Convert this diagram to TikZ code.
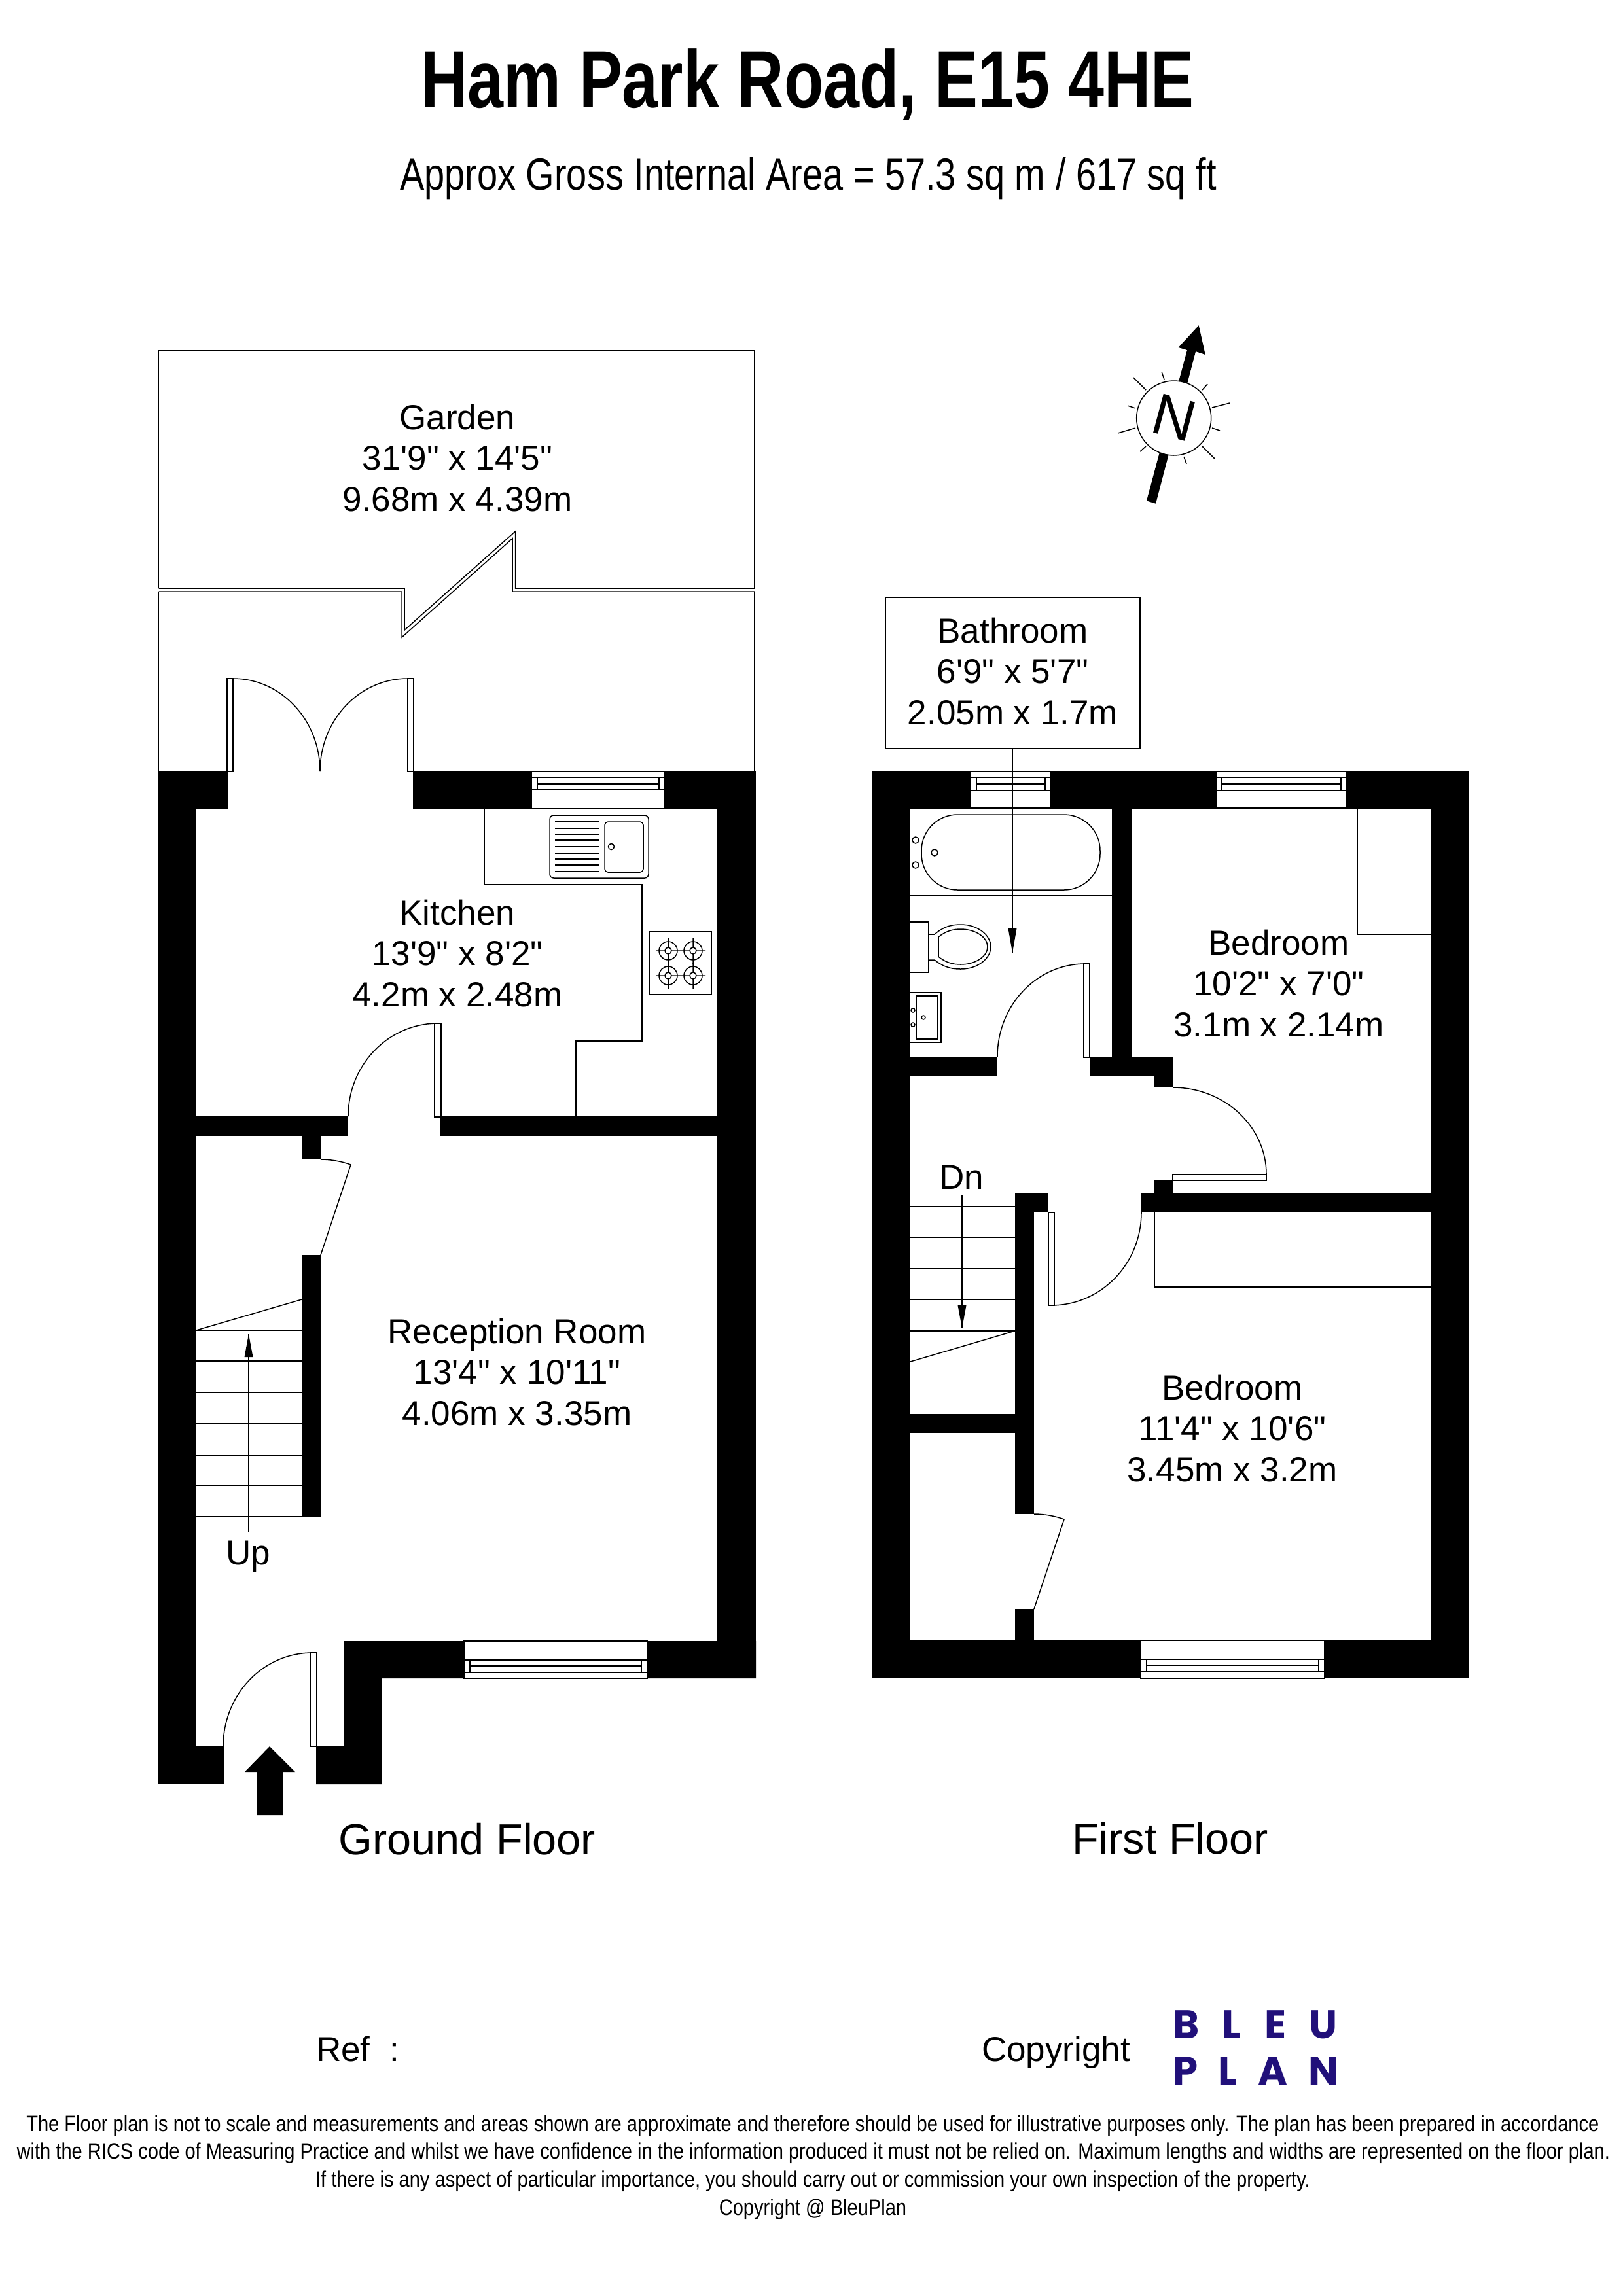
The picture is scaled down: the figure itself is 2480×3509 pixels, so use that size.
\documentclass[tikz,border=0pt]{standalone}
\usepackage{fontspec}
\newfontfamily\ar{Liberation Sans}
\newfontfamily\arT[FakeStretch=0.797]{Liberation Sans}
\newfontfamily\arS[FakeStretch=0.81]{Liberation Sans}
\newfontfamily\arF[FakeStretch=0.855]{Liberation Sans}
\newfontfamily\bleu[LetterSpace=58]{Poppins}
\newfontfamily\bleuB[LetterSpace=52]{Poppins}
\definecolor{bleublue}{HTML}{21107A}
\tikzset{
  wall/.style={fill=black,draw=none},
  fine/.style={draw=black,line width=1.5pt},
  leaf/.style={draw=black,line width=1.5pt,fill=white},
  room/.style={font=\ar\fontsize{53}{62.5}\selectfont,align=center,inner sep=0pt},
  lab/.style={font=\ar\fontsize{53}{62.5}\selectfont,anchor=base,inner sep=0pt},
  floorlab/.style={font=\ar\fontsize{66.6}{70}\selectfont,anchor=base,inner sep=0pt},
  foot/.style={font=\arF\fontsize{34}{40}\selectfont,anchor=base,inner sep=0pt},
}
\newcommand\varc[4]{\draw[fine] (#1,#2) .. controls ({#1},{#2+.5523*(#4-#2)}) and ({#3+.5523*(#1-#3)},#4) .. (#3,#4);}
\newcommand\fwin[7]{%
  \draw[leaf] (#1,#3) rectangle (#2,#4);
  \draw[leaf] (#1,#5) rectangle (#2,#7);
  \draw[fine] ({#1+9},#5) -- ({#1+9},#7) ({#2-9},#5) -- ({#2-9},#7) ({#1+9},#6) -- ({#2-9},#6);}
\newcommand\burner[2]{%
  \draw[fine] (#1,#2) circle[radius=14] (#1,#2) circle[radius=5]
    ({#1-19},#2) -- ({#1-5},#2) ({#1+5},#2) -- ({#1+19},#2)
    (#1,{#2-20}) -- (#1,{#2-5}) (#1,{#2+5}) -- (#1,{#2+20});}
\newcommand\updown[4]{% x, from y, tip y, base y
  \draw[fine] (#1,#2) -- (#1,#3);
  \fill (#1,#3) -- ({#1-6.5},#4) -- ({#1+6.5},#4) -- cycle;}
\begin{document}
\begin{tikzpicture}[x=1pt,y=-1pt]
\useasboundingbox (0,0) rectangle (2480,3509);
\fill[white] (0,0) rectangle (2480,3509);

% titles
\node[font=\arT\bfseries\fontsize{124}{130}\selectfont,anchor=base,inner sep=0pt] (title) at (1234,164) {Ham Park Road, E15 4HE};
\node[font=\arS\fontsize{69}{72}\selectfont,anchor=base,inner sep=0pt] (subtitle) at (1235,290) {Approx Gross Internal Area = 57.3 sq m / 617 sq ft};

% ---------- garden
\draw[fine] (242.5,899) -- (242.5,536) -- (1153,536) -- (1153,899);
\draw[fine] (242.5,899) -- (618,899) -- (618,963) -- (787.5,812) -- (787.5,899) -- (1153,899);
\draw[fine] (242.5,904) -- (614,904) -- (614,974) -- (783,823) -- (783,904) -- (1153,904);
\draw[fine] (242.5,904) -- (242.5,1179) (1153,904) -- (1153,1179);

% ---------- ground floor walls
\fill[wall] (242,1179) rectangle (348,1237);
\fill[wall] (242,1179) rectangle (300,2727);
\fill[wall] (242,2669) rectangle (342,2727);
\fill[wall] (631,1179) rectangle (1155,1237);
\fill[wall] (1096,1179) rectangle (1155,2565);
\fill[wall] (300,1706) rectangle (532,1736);
\fill[wall] (673,1706) rectangle (1096,1736);
\fill[wall] (461,1736) rectangle (490,1772);
\fill[wall] (461,1918) rectangle (490,2318);
\fill[wall] (525,2508) -- (1155,2508) -- (1155,2565) -- (583,2565) -- (583,2727) -- (483,2727) -- (483,2669) -- (525,2669) -- cycle;
\fwin{812}{1016}{1179}{1236}{1188}{1198}{1207}
\fwin{709}{989}{2508}{2565}{2537}{2546}{2556}

% french doors
\draw[leaf] (347,1037) rectangle (356,1179);
\draw[leaf] (623,1037) rectangle (632,1179);
\varc{489}{1179}{356}{1037}
\varc{489}{1179}{623}{1037}
% kitchen door
\draw[leaf] (664,1564) rectangle (674,1707);
\varc{532}{1706}{669}{1564}
% entrance door
\draw[leaf] (474,2526) rectangle (484,2669);
\varc{341}{2669}{477}{2526}
% under stair door
\draw[fine] (490,1772) .. controls (506,1772) and (522,1775) .. (536,1780) -- (490,1918);
% worktop
\draw[fine] (740,1237) -- (740,1352) -- (981,1352) -- (981,1591) -- (880,1591) -- (880,1706);
% sink
\draw[fine,rounded corners=6pt] (840,1246) rectangle (991,1342);
\draw[fine,rounded corners=5pt] (924,1256) rectangle (983,1333);
\draw[fine] (934,1294) circle[radius=4.5];
\foreach \ry in {1256,1266,1275,1284,1294,1304,1313,1322,1332} \draw[fine] (848,\ry) -- (916,\ry);
% hob
\draw[fine] (992,1424) rectangle (1087,1520);
\burner{1021}{1453}\burner{1059}{1453}\burner{1021}{1491}\burner{1059}{1491}
% stairs
\foreach \ry in {2033,2080,2128,2176,2224,2270,2318} \draw[fine] (300,\ry) -- (461,\ry);
\draw[fine] (300,2033) -- (461,1986);
\updown{380}{2341}{2039}{2074}
\node[lab] (up) at (379,2391) {Up};
% entrance arrow
\fill (412,2669) -- (451,2708) -- (432,2708) -- (432,2774) -- (393,2774) -- (393,2708) -- (374,2708) -- cycle;

\node[room] (garden) at (699,700) {Garden\\31'9" x 14'5"\\9.68m x 4.39m};
\node[room] (kitchen) at (699,1457) {Kitchen\\13'9" x 8'2"\\4.2m x 2.48m};
\node[room] (reception) at (790,2097) {Reception Room\\13'4" x 10'11"\\4.06m x 3.35m};
\node[floorlab] (gfloor) at (714,2834) {Ground Floor};

% ---------- first floor walls
\fill[wall] (1332,1179) rectangle (2245,1237);
\fill[wall] (1332,1179) rectangle (1391,2565);
\fill[wall] (2186,1179) rectangle (2245,2565);
\fill[wall] (1332,2507) rectangle (2245,2565);
\fill[wall] (1699,1237) rectangle (1729,1615);
\fill[wall] (1391,1615) rectangle (1524,1645);
\fill[wall] (1665,1615) rectangle (1793,1645);
\fill[wall] (1763,1615) rectangle (1793,1662);
\fill[wall] (1763,1804) rectangle (1793,1824);
\fill[wall] (1743,1824) rectangle (2186,1853);
\fill[wall] (1551,1824) rectangle (1602,1853);
\fill[wall] (1551,1824) rectangle (1580,2314);
\fill[wall] (1391,2161) rectangle (1580,2190);
\fill[wall] (1551,2459) rectangle (1580,2507);
\fwin{1483}{1606}{1179}{1235}{1188}{1198}{1208}
\fwin{1858}{2058}{1179}{1235}{1188}{1198}{1208}
\fwin{1743}{2024}{2507}{2565}{2536}{2545}{2555}

% bath
\draw[fine] (1391,1369) -- (1699,1369);
\draw[fine,rounded corners=55pt] (1408,1245) rectangle (1681,1360);
\draw[fine] (1399,1284) circle[radius=5] (1399,1322) circle[radius=5] (1428,1303) circle[radius=5];
% toilet
\draw[fine] (1391,1409) -- (1419,1409) -- (1419,1486) -- (1391,1486);
\draw[fine] (1419,1428) -- (1428,1428) .. controls (1444,1414) and (1458,1413) .. (1468,1413) .. controls (1495,1413) and (1514,1430) .. (1514,1447) .. controls (1514,1464) and (1495,1481) .. (1468,1481) .. controls (1458,1481) and (1444,1480) .. (1428,1467) -- (1419,1467);
\draw[fine] (1434,1432) .. controls (1446,1422) and (1458,1420) .. (1468,1420) .. controls (1490,1420) and (1509,1432) .. (1509,1447) .. controls (1509,1462) and (1490,1474) .. (1468,1474) .. controls (1458,1474) and (1446,1472) .. (1434,1462) -- cycle;
% basin
\draw[fine] (1391,1517) -- (1438,1517) -- (1438,1593) -- (1391,1593);
\draw[fine] (1400,1522) rectangle (1433,1588);
\draw[fine] (1395,1544) circle[radius=3] (1395,1566) circle[radius=3] (1411,1555) circle[radius=3];
% doors
\draw[leaf] (1656,1473) rectangle (1665,1616);
\varc{1524}{1615}{1658}{1473}
\draw[leaf] (1792,1795) rectangle (1935,1804);
\varc{1935}{1795}{1792}{1662}
\draw[leaf] (1602,1853) rectangle (1611,1995);
\varc{1744}{1853}{1606}{1995}
\draw[fine] (1580,2314) .. controls (1596,2314) and (1612,2317) .. (1626,2322) -- (1580,2459);
% closets
\draw[fine] (2074,1237) -- (2074,1428) -- (2186,1428);
\draw[fine] (1764,1853) -- (1764,1967) -- (2186,1967);
% stairs
\foreach \ry in {1844,1891,1939,1986,2034} \draw[fine] (1391,\ry) -- (1551,\ry);
\draw[fine] (1391,2081) -- (1551,2034);
\updown{1470}{1826}{2030}{1995}
\node[lab] (dn) at (1469,1817) {Dn};

\node[room] (bedroomA) at (1954,1503) {Bedroom\\10'2" x 7'0"\\3.1m x 2.14m};
\node[room] (bedroomB) at (1883,2183) {Bedroom\\11'4" x 10'6"\\3.45m x 3.2m};
\node[floorlab] (ffloor) at (1788,2833) {First Floor};

% bathroom box and pointer
\node[draw=black,line width=1.5pt,fill=white,minimum width=389pt,minimum height=231pt] (bathroom) at (1547.5,1028.5) {};
\node[room] (bathlabel) at (1547.5,1026) {Bathroom\\6'9" x 5'7"\\2.05m x 1.7m};
\coordinate (btip) at (1547,1456);
\draw[fine] (bathroom.south -| btip) -- (btip);
\fill (btip) -- (1540.5,1419) -- (1553.5,1419) -- cycle;

% compass
\fill (1752,765.3) -- (1766,769.7) -- (1827,537) -- (1841.7,542) -- (1831.7,497.3) -- (1800.7,531) -- (1814,535) -- cycle;
\draw[fine,fill=white] (1793.7,639) circle[radius=57];
\foreach \ax/\ay/\bx/\by in {1751/596/1732/577, 1852/623/1879/616, 1837/682/1856/701, 1735/654/1708/662, 1779/580/1775/568, 1837/596/1845/587, 1852/654/1864/658, 1809/698/1813/709, 1751/682/1742/690, 1735/624/1723/620}
  \draw[fine] (\ax,\ay) -- (\bx,\by);
\node[font=\ar\fontsize{89}{90}\selectfont,inner sep=0pt,rotate=-15] (north) at (1794,638) {N};

% footer
\node[lab] (ref) at (483,3150) [anchor=base west] {Ref \ :};
\node[lab] (copy) at (1500,3150) [anchor=base west] {Copyright};
\node[font=\bleu\bfseries\fontsize{61}{61}\selectfont,anchor=base west,inner sep=0pt,text=bleublue] (bleu1) at (1792,3115) {BLEU};
\node[font=\bleuB\bfseries\fontsize{61}{61}\selectfont,anchor=base west,inner sep=0pt,text=bleublue] (bleu2) at (1792,3186) {PLAN};
\node[foot] (f1) at (1242,3257) {The Floor plan is not to scale and measurements and areas shown are approximate and therefore should be used for illustrative purposes only. The plan has been prepared in accordance};
\node[foot] (f2) at (1243,3299) {with the RICS code of Measuring Practice and whilst we have confidence in the information produced it must not be relied on. Maximum lengths and widths are represented on the floor plan.};
\node[foot] (f3) at (1242,3342) {If there is any aspect of particular importance, you should carry out or commission your own inspection of the property.};
\node[foot] (f4) at (1242,3385) {Copyright @ BleuPlan};
\end{tikzpicture}
\end{document}
